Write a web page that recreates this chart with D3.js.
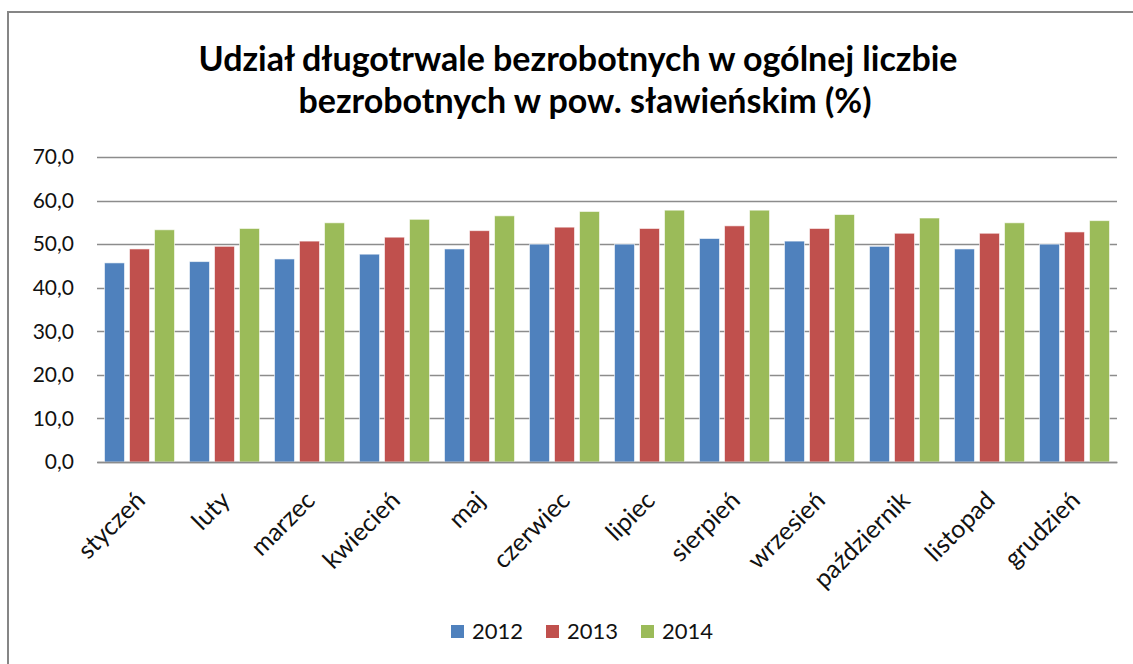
<!DOCTYPE html>
<html>
<head>
<meta charset="utf-8">
<script src="https://cdn.jsdelivr.net/npm/d3@7"></script>
<style>
  body { margin: 0; background: #fff; }
  text { font-family: Lato, "Open Sans", sans-serif; }
</style>
</head>
<body>
<div id="chart"></div>
<script>
const months = ['styczeń', 'luty', 'marzec', 'kwiecień', 'maj', 'czerwiec',
  'lipiec', 'sierpień', 'wrzesień', 'październik', 'listopad', 'grudzień']
const years = ['2012', '2013', '2014']
const values2012 = [45.7, 46.0, 46.6, 47.7, 48.9, 50.0, 50.0, 51.3, 50.7, 49.5, 48.9, 50.0]
const values2013 = [48.9, 49.5, 50.7, 51.6, 53.1, 53.9, 53.6, 54.2, 53.6, 52.5, 52.5, 52.8]
const values2014 = [53.3, 53.6, 54.9, 55.7, 56.5, 57.5, 57.8, 57.8, 56.8, 56.0, 54.9, 55.4]
const yTicks = [0, 10, 20, 30, 40, 50, 60, 70]
const colors = ['#4F81BD', '#C0504D', '#9BBB59']

const width = 1133, height = 664
const margins = { top: 157, right: 16, bottom: 202, left: 97 }

const series = [values2012, values2013, values2014]

const svg = d3.select('#chart').append('svg')
  .attr('width', width)
  .attr('height', height)

// outer chart frame
svg.append('rect')
  .attr('x', 8).attr('y', 12)
  .attr('width', width + 10).attr('height', height + 10)
  .attr('fill', 'none')
  .attr('stroke', '#868686')
  .attr('stroke-width', 2)

// title
const title = svg.append('text')
  .attr('text-anchor', 'middle')
  .attr('font-weight', 'bold')
  .attr('font-size', 34)
  .attr('fill', '#000')
title.append('tspan').attr('x', 578).attr('y', 71).text('Udział długotrwale bezrobotnych w ogólnej liczbie')
title.append('tspan').attr('x', 585).attr('y', 113).text('bezrobotnych w pow. sławieńskim (%)')

const plotW = width - margins.left - margins.right
const plotH = height - margins.top - margins.bottom

const chart = svg.append('g')
  .attr('transform', `translate(${margins.left},${margins.top})`)

const x0 = d3.scaleBand()
  .domain(months)
  .range([0, plotW])
  .paddingInner(0.176)
  .paddingOuter(0.088)

const x1 = d3.scaleBand()
  .domain(years)
  .range([0, x0.bandwidth()])
  .paddingInner(0.2)

const y = d3.scaleLinear()
  .domain([0, 70])
  .range([plotH, 0])

// gridlines
chart.append('g')
  .selectAll('line')
  .data(yTicks)
  .join('line')
  .attr('x1', 0).attr('x2', plotW)
  .attr('y1', d => Math.round(y(d)) + 0.5)
  .attr('y2', d => Math.round(y(d)) + 0.5)
  .attr('stroke', '#8c8c8c')
  .attr('stroke-width', 1.3)

// y axis labels
const yAxis = chart.append('g')
  .call(d3.axisLeft(y).tickValues(yTicks).tickSize(0).tickPadding(23)
    .tickFormat(d => d3.format('.1f')(d).replace('.', ',')))
yAxis.select('.domain').remove()
yAxis.selectAll('text')
  .attr('font-size', 21)
  .attr('fill', '#111')

// bars
const groups = chart.append('g')
  .selectAll('g')
  .data(months)
  .join('g')
  .attr('transform', d => `translate(${x0(d)},0)`)

groups.selectAll('rect')
  .data((m, i) => years.map((yr, j) => ({ year: yr, value: series[j][i], c: colors[j] })))
  .join('rect')
  .attr('x', d => x1(d.year))
  .attr('width', x1.bandwidth())
  .attr('y', d => y(d.value))
  .attr('height', d => y(0) - y(d.value))
  .attr('fill', d => d.c)
  .attr('stroke', '#fff')
  .attr('stroke-opacity', 0.6)
  .attr('stroke-width', 1)

// x axis
const xAxis = chart.append('g')
  .attr('transform', `translate(0,${plotH})`)
  .call(d3.axisBottom(x0).tickSize(0).tickPadding(0))
xAxis.select('.domain')
  .attr('stroke', '#8c8c8c')
  .attr('stroke-width', 1.3)
xAxis.selectAll('text')
  .attr('font-size', 25)
  .attr('fill', '#111')
  .attr('text-anchor', 'end')
  .attr('dy', 0)
  .attr('transform', 'translate(7,40) rotate(-45)')

// legend
const legend = svg.append('g')
  .attr('transform', 'translate(451,639)')
const legendItems = legend.selectAll('g')
  .data(years)
  .join('g')
  .attr('transform', (d, i) => `translate(${i * 95},0)`)
legendItems.append('rect')
  .attr('x', 0).attr('y', -14)
  .attr('width', 13).attr('height', 13)
  .attr('fill', (d, i) => colors[i])
legendItems.append('text')
  .attr('x', 21).attr('y', 0)
  .attr('font-size', 22)
  .attr('fill', '#111')
  .text(d => d)
</script>
</body>
</html>
